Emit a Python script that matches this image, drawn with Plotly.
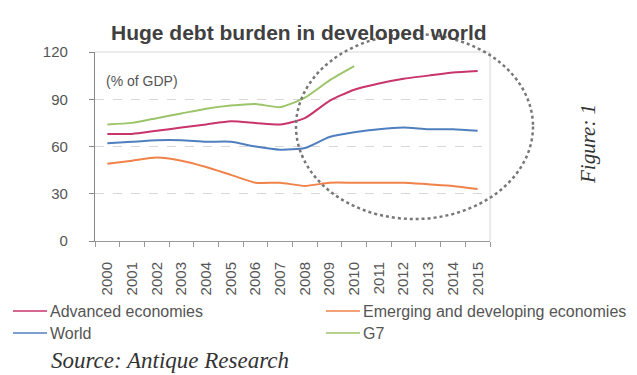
import plotly.graph_objects as go

# Gross government debt, % of GDP
years = [str(y) for y in range(2000, 2016)]
advanced = [68, 68, 70, 72, 74, 76, 75, 74, 78, 89, 96, 100, 103, 105, 107, 108]
emerging = [49, 51, 53, 51, 47, 42, 37, 37, 35, 37, 37, 37, 37, 36, 35, 33]
world = [62, 63, 64, 64, 63, 63, 60, 58, 59, 66, 69, 71, 72, 71, 71, 70]
g7_years = years[:11]
g7 = [74, 75, 78, 81, 84, 86, 87, 85, 91, 102, 111]

series = [
    ("Advanced economies", years, advanced, "#c8346b"),
    ("Emerging and developing economies", years, emerging, "#f0824a"),
    ("World", years, world, "#4f7fbf"),
    ("G7", g7_years, g7, "#9cc46a"),
]

W, H = 637, 375
L, R, T, B = 95, 147, 52, 134
pw, ph = W - L - R, H - T - B


def px(x):
    return (x - L) / pw


def py(y):
    return (H - B - y) / ph


grey = "#555555"
fig = go.Figure()
for name, xs, ys, color in series:
    fig.add_trace(go.Scatter(
        x=xs, y=ys, name=name, mode="lines", showlegend=False,
        line=dict(color=color, width=2, shape="spline", smoothing=0.6),
    ))

# two-column key below the axis
key_pos = [(13, 311), (326, 311), (13, 333), (326, 333)]
for (name, _, _, color), (kx, ky) in zip(series, key_pos):
    fig.add_shape(type="line", xref="paper", yref="paper",
                  x0=px(kx), x1=px(kx + 34), y0=py(ky), y1=py(ky),
                  line=dict(color=color, width=1.5))
    fig.add_annotation(text=name, xref="paper", yref="paper",
                       x=px(kx + 35), y=py(ky), xanchor="left", yanchor="middle",
                       showarrow=False, font=dict(size=16, color=grey))

fig.update_layout(
    width=W, height=H,
    margin=dict(l=L, r=R, t=T, b=B),
    paper_bgcolor="white", plot_bgcolor="white",
    font=dict(family="Liberation Sans, Arial, sans-serif", color=grey),
    xaxis=dict(
        type="category", range=[-0.5, 15.5], tickson="boundaries",
        ticks="outside", ticklen=5, tickcolor="#999999",
        tickangle=-90, tickfont=dict(size=15, color=grey),
        showline=True, linecolor="#999999", linewidth=1,
        showgrid=False, ticklabelstandoff=14,
    ),
    yaxis=dict(
        range=[0, 120], tickvals=[0, 30, 60, 90, 120],
        ticks="outside", ticklen=5, tickcolor="#888888",
        tickfont=dict(size=15, color=grey), ticklabelstandoff=18,
        showline=True, linecolor="#888888", linewidth=1.2,
        showgrid=True, gridcolor="#d8d8d8", griddash="dash", gridwidth=1,
        zeroline=False,
    ),
    showlegend=False,
)

# light frame on top and right of the plot area
fig.add_shape(type="line", xref="paper", yref="paper", x0=0, x1=1, y0=1, y1=1,
              line=dict(color="#d8d8d8", width=1))
fig.add_shape(type="line", xref="paper", yref="paper", x0=1, x1=1, y0=0, y1=1,
              line=dict(color="#d8d8d8", width=1))

# dotted ring highlighting the post-2008 period
fig.add_shape(type="circle", xref="paper", yref="paper",
              x0=px(296), x1=px(533), y0=py(219), y1=py(34),
              line=dict(color="#777777", width=2.5, dash="dot"))

fig.add_annotation(text="<b>Huge debt burden in developed world</b>",
                   xref="paper", yref="paper", x=px(299), y=py(19),
                   showarrow=False, font=dict(size=21, color="#404040"))
fig.add_annotation(text="(% of GDP)", xref="paper", yref="paper",
                   x=px(104), y=py(71), xanchor="left", showarrow=False,
                   font=dict(size=14, color=grey))
fig.add_annotation(text="<i>Figure: 1</i>", xref="paper", yref="paper",
                   x=px(602), y=py(144), textangle=-90, showarrow=False,
                   font=dict(size=21, color="#333333",
                             family="Liberation Serif, Times New Roman, serif"))
fig.add_annotation(text="<i>Source: Antique Research</i>", xref="paper", yref="paper",
                   x=px(49), y=py(355), xanchor="left", yanchor="middle",
                   yshift=-5, showarrow=False,
                   font=dict(size=23, color="#333333",
                             family="Liberation Serif, Times New Roman, serif"))

fig.write_html("out.html")
